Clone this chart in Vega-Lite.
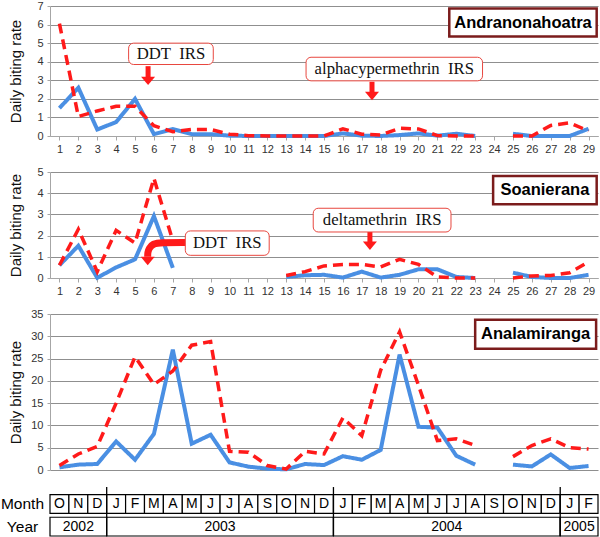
{
  "$schema": "https://vega.github.io/schema/vega-lite/v6.json",
  "background": "white",
  "padding": {"left": 0, "top": 0, "right": 2, "bottom": 0},
  "spacing": 36,
  "bounds": "flush",
  "config": {
    "view": {"stroke": null},
    "font": "Liberation Sans",
    "axis": {"labelFont": "Liberation Sans", "titleFont": "Liberation Sans", "labelColor": "#333", "domainColor": "#a6a6a6", "tickColor": "#a6a6a6", "gridColor": "#8f8f8f", "gridWidth": 1, "titleFontWeight": "normal", "titleColor": "#111", "titleFontSize": 15, "labelFontSize": 11, "labelOverlap": false}
  },
  "datasets": {
    "rates": [
      {"site": "Andranonahoatra", "month": 1, "Series 1": 1.5, "Series 2": 6.05},
      {"site": "Andranonahoatra", "month": 2, "Series 1": 2.6, "Series 2": 1.05},
      {"site": "Andranonahoatra", "month": 3, "Series 1": 0.35, "Series 2": 1.35},
      {"site": "Andranonahoatra", "month": 4, "Series 1": 0.75, "Series 2": 1.6},
      {"site": "Andranonahoatra", "month": 5, "Series 1": 2.0, "Series 2": 1.6},
      {"site": "Andranonahoatra", "month": 6, "Series 1": 0.1, "Series 2": 0.55},
      {"site": "Andranonahoatra", "month": 7, "Series 1": 0.37, "Series 2": 0.23},
      {"site": "Andranonahoatra", "month": 8, "Series 1": 0.1, "Series 2": 0.35},
      {"site": "Andranonahoatra", "month": 9, "Series 1": 0.1, "Series 2": 0.35},
      {"site": "Andranonahoatra", "month": 10, "Series 1": 0.02, "Series 2": 0.1},
      {"site": "Andranonahoatra", "month": 11, "Series 1": 0, "Series 2": 0.02},
      {"site": "Andranonahoatra", "month": 12, "Series 1": 0, "Series 2": 0},
      {"site": "Andranonahoatra", "month": 13, "Series 1": 0, "Series 2": 0},
      {"site": "Andranonahoatra", "month": 14, "Series 1": 0, "Series 2": 0},
      {"site": "Andranonahoatra", "month": 15, "Series 1": 0, "Series 2": 0},
      {"site": "Andranonahoatra", "month": 16, "Series 1": 0.14, "Series 2": 0.39},
      {"site": "Andranonahoatra", "month": 17, "Series 1": 0.02, "Series 2": 0.1},
      {"site": "Andranonahoatra", "month": 18, "Series 1": 0, "Series 2": 0.05},
      {"site": "Andranonahoatra", "month": 19, "Series 1": 0.05, "Series 2": 0.42},
      {"site": "Andranonahoatra", "month": 20, "Series 1": 0.14, "Series 2": 0.38},
      {"site": "Andranonahoatra", "month": 21, "Series 1": 0.02, "Series 2": 0.02},
      {"site": "Andranonahoatra", "month": 22, "Series 1": 0.12, "Series 2": 0},
      {"site": "Andranonahoatra", "month": 23, "Series 1": 0, "Series 2": 0},
      {"site": "Andranonahoatra", "month": 24, "Series 1": null, "Series 2": null},
      {"site": "Andranonahoatra", "month": 25, "Series 1": 0.12, "Series 2": 0},
      {"site": "Andranonahoatra", "month": 26, "Series 1": 0, "Series 2": 0},
      {"site": "Andranonahoatra", "month": 27, "Series 1": 0, "Series 2": 0.57},
      {"site": "Andranonahoatra", "month": 28, "Series 1": 0, "Series 2": 0.71},
      {"site": "Andranonahoatra", "month": 29, "Series 1": 0.39, "Series 2": 0.27},
      {"site": "Soanierana", "month": 1, "Series 1": 0.6, "Series 2": 0.6},
      {"site": "Soanierana", "month": 2, "Series 1": 1.52, "Series 2": 2.3},
      {"site": "Soanierana", "month": 3, "Series 1": 0.01, "Series 2": 0.3},
      {"site": "Soanierana", "month": 4, "Series 1": 0.5, "Series 2": 2.25},
      {"site": "Soanierana", "month": 5, "Series 1": 0.88, "Series 2": 1.65},
      {"site": "Soanierana", "month": 6, "Series 1": 2.92, "Series 2": 4.7},
      {"site": "Soanierana", "month": 7, "Series 1": 0.48, "Series 2": 1.75},
      {"site": "Soanierana", "month": 8, "Series 1": null, "Series 2": null},
      {"site": "Soanierana", "month": 9, "Series 1": null, "Series 2": null},
      {"site": "Soanierana", "month": 10, "Series 1": null, "Series 2": null},
      {"site": "Soanierana", "month": 11, "Series 1": null, "Series 2": null},
      {"site": "Soanierana", "month": 12, "Series 1": null, "Series 2": null},
      {"site": "Soanierana", "month": 13, "Series 1": 0.05, "Series 2": 0.12},
      {"site": "Soanierana", "month": 14, "Series 1": 0.13, "Series 2": 0.3},
      {"site": "Soanierana", "month": 15, "Series 1": 0.15, "Series 2": 0.57},
      {"site": "Soanierana", "month": 16, "Series 1": 0.02, "Series 2": 0.64},
      {"site": "Soanierana", "month": 17, "Series 1": 0.3, "Series 2": 0.64},
      {"site": "Soanierana", "month": 18, "Series 1": 0.02, "Series 2": 0.52},
      {"site": "Soanierana", "month": 19, "Series 1": 0.15, "Series 2": 0.88},
      {"site": "Soanierana", "month": 20, "Series 1": 0.41, "Series 2": 0.64},
      {"site": "Soanierana", "month": 21, "Series 1": 0.41, "Series 2": 0.05},
      {"site": "Soanierana", "month": 22, "Series 1": 0.05, "Series 2": 0},
      {"site": "Soanierana", "month": 23, "Series 1": 0, "Series 2": 0},
      {"site": "Soanierana", "month": 24, "Series 1": null, "Series 2": null},
      {"site": "Soanierana", "month": 25, "Series 1": 0.25, "Series 2": 0},
      {"site": "Soanierana", "month": 26, "Series 1": 0.05, "Series 2": 0.1},
      {"site": "Soanierana", "month": 27, "Series 1": 0, "Series 2": 0.12},
      {"site": "Soanierana", "month": 28, "Series 1": 0, "Series 2": 0.25},
      {"site": "Soanierana", "month": 29, "Series 1": 0.15, "Series 2": 0.76},
      {"site": "Analamiranga", "month": 1, "Series 1": 0.6, "Series 2": 1.0},
      {"site": "Analamiranga", "month": 2, "Series 1": 1.2, "Series 2": 3.6},
      {"site": "Analamiranga", "month": 3, "Series 1": 1.35, "Series 2": 5.3},
      {"site": "Analamiranga", "month": 4, "Series 1": 6.4, "Series 2": 15.0},
      {"site": "Analamiranga", "month": 5, "Series 1": 2.3, "Series 2": 25.4},
      {"site": "Analamiranga", "month": 6, "Series 1": 8.1, "Series 2": 19.2},
      {"site": "Analamiranga", "month": 7, "Series 1": 27.0, "Series 2": 22.2},
      {"site": "Analamiranga", "month": 8, "Series 1": 5.9, "Series 2": 28.0},
      {"site": "Analamiranga", "month": 9, "Series 1": 7.9, "Series 2": 28.8},
      {"site": "Analamiranga", "month": 10, "Series 1": 1.7, "Series 2": 4.2},
      {"site": "Analamiranga", "month": 11, "Series 1": 0.75, "Series 2": 4.0},
      {"site": "Analamiranga", "month": 12, "Series 1": 0.3, "Series 2": 1.0},
      {"site": "Analamiranga", "month": 13, "Series 1": 0.15, "Series 2": 0.2},
      {"site": "Analamiranga", "month": 14, "Series 1": 1.35, "Series 2": 4.2},
      {"site": "Analamiranga", "month": 15, "Series 1": 1.1, "Series 2": 3.6},
      {"site": "Analamiranga", "month": 16, "Series 1": 3.1, "Series 2": 11.7},
      {"site": "Analamiranga", "month": 17, "Series 1": 2.3, "Series 2": 7.7},
      {"site": "Analamiranga", "month": 18, "Series 1": 4.5, "Series 2": 22.4},
      {"site": "Analamiranga", "month": 19, "Series 1": 25.9, "Series 2": 31.0},
      {"site": "Analamiranga", "month": 20, "Series 1": 9.7, "Series 2": 19.0},
      {"site": "Analamiranga", "month": 21, "Series 1": 9.5, "Series 2": 6.6},
      {"site": "Analamiranga", "month": 22, "Series 1": 3.2, "Series 2": 7.0},
      {"site": "Analamiranga", "month": 23, "Series 1": 1.2, "Series 2": 5.5},
      {"site": "Analamiranga", "month": 24, "Series 1": null, "Series 2": null},
      {"site": "Analamiranga", "month": 25, "Series 1": 1.2, "Series 2": 3.0},
      {"site": "Analamiranga", "month": 26, "Series 1": 0.8, "Series 2": 5.5},
      {"site": "Analamiranga", "month": 27, "Series 1": 3.5, "Series 2": 7.0},
      {"site": "Analamiranga", "month": 28, "Series 1": 0.45, "Series 2": 5.0},
      {"site": "Analamiranga", "month": 29, "Series 1": 0.9, "Series 2": 4.7}
    ],
    "notes": [
      {"site": "Andranonahoatra", "kind": "irs", "label": "DDT\u00a0\u00a0IRS", "x1": 4.66, "x2": 9.14, "y1": 3.85, "y2": 5.0, "xm": 6.9, "ym": 4.43},
      {"site": "Andranonahoatra", "kind": "irs", "label": "alphacypermethrin\u00a0\u00a0IRS", "x1": 14.05, "x2": 23.39, "y1": 2.97, "y2": 4.24, "xm": 18.72, "ym": 3.6},
      {"site": "Andranonahoatra", "kind": "site", "label": "Andranonahoatra", "x1": 21.63, "x2": 29.43, "y1": 5.36, "y2": 6.86, "xm": 25.53, "ym": 6.11},
      {"site": "Soanierana", "kind": "site", "label": "Soanierana", "x1": 23.95, "x2": 29.43, "y1": 3.48, "y2": 4.81, "xm": 26.69, "ym": 4.15},
      {"site": "Soanierana", "kind": "irs", "label": "deltamethrin\u00a0\u00a0IRS", "x1": 14.43, "x2": 21.72, "y1": 2.17, "y2": 3.29, "xm": 18.08, "ym": 2.73},
      {"site": "Soanierana", "kind": "irs", "label": "DDT\u00a0\u00a0IRS", "x1": 7.66, "x2": 12.1, "y1": 1.07, "y2": 2.22, "xm": 9.88, "ym": 1.65},
      {"site": "Analamiranga", "kind": "site", "label": "Analamiranga", "x1": 23.0, "x2": 29.4, "y1": 27.2, "y2": 33.7, "xm": 26.2, "ym": 30.45}
    ],
    "shafts": [
      {"site": "Andranonahoatra", "x": 5.69, "ytop": 3.76, "yend": 3.05},
      {"site": "Andranonahoatra", "x": 17.54, "ytop": 2.92, "yend": 2.25},
      {"site": "Soanierana", "x": 17.43, "ytop": 2.17, "yend": 1.62}
    ],
    "heads": [
      {"site": "Andranonahoatra", "x": 5.69, "y": 2.97},
      {"site": "Andranonahoatra", "x": 17.54, "y": 2.15},
      {"site": "Soanierana", "x": 17.43, "y": 1.52},
      {"site": "Soanierana", "x": 5.67, "y": 0.8}
    ],
    "curve": [
      {"order": 1, "x": 7.7, "y": 1.67},
      {"order": 2, "x": 6.35, "y": 1.67},
      {"order": 3, "x": 5.95, "y": 1.62},
      {"order": 4, "x": 5.74, "y": 1.4},
      {"order": 5, "x": 5.67, "y": 1.2},
      {"order": 6, "x": 5.67, "y": 1.0}
    ],
    "months": [
      {"row": "Month", "pos": 1, "from": 0.5, "to": 1.5, "label": "O"},
      {"row": "Month", "pos": 2, "from": 1.5, "to": 2.5, "label": "N"},
      {"row": "Month", "pos": 3, "from": 2.5, "to": 3.5, "label": "D"},
      {"row": "Month", "pos": 4, "from": 3.5, "to": 4.5, "label": "J"},
      {"row": "Month", "pos": 5, "from": 4.5, "to": 5.5, "label": "F"},
      {"row": "Month", "pos": 6, "from": 5.5, "to": 6.5, "label": "M"},
      {"row": "Month", "pos": 7, "from": 6.5, "to": 7.5, "label": "A"},
      {"row": "Month", "pos": 8, "from": 7.5, "to": 8.5, "label": "M"},
      {"row": "Month", "pos": 9, "from": 8.5, "to": 9.5, "label": "J"},
      {"row": "Month", "pos": 10, "from": 9.5, "to": 10.5, "label": "J"},
      {"row": "Month", "pos": 11, "from": 10.5, "to": 11.5, "label": "A"},
      {"row": "Month", "pos": 12, "from": 11.5, "to": 12.5, "label": "S"},
      {"row": "Month", "pos": 13, "from": 12.5, "to": 13.5, "label": "O"},
      {"row": "Month", "pos": 14, "from": 13.5, "to": 14.5, "label": "N"},
      {"row": "Month", "pos": 15, "from": 14.5, "to": 15.5, "label": "D"},
      {"row": "Month", "pos": 16, "from": 15.5, "to": 16.5, "label": "J"},
      {"row": "Month", "pos": 17, "from": 16.5, "to": 17.5, "label": "F"},
      {"row": "Month", "pos": 18, "from": 17.5, "to": 18.5, "label": "M"},
      {"row": "Month", "pos": 19, "from": 18.5, "to": 19.5, "label": "A"},
      {"row": "Month", "pos": 20, "from": 19.5, "to": 20.5, "label": "M"},
      {"row": "Month", "pos": 21, "from": 20.5, "to": 21.5, "label": "J"},
      {"row": "Month", "pos": 22, "from": 21.5, "to": 22.5, "label": "J"},
      {"row": "Month", "pos": 23, "from": 22.5, "to": 23.5, "label": "A"},
      {"row": "Month", "pos": 24, "from": 23.5, "to": 24.5, "label": "S"},
      {"row": "Month", "pos": 25, "from": 24.5, "to": 25.5, "label": "O"},
      {"row": "Month", "pos": 26, "from": 25.5, "to": 26.5, "label": "N"},
      {"row": "Month", "pos": 27, "from": 26.5, "to": 27.5, "label": "D"},
      {"row": "Month", "pos": 28, "from": 27.5, "to": 28.5, "label": "J"},
      {"row": "Month", "pos": 29, "from": 28.5, "to": 29.5, "label": "F"}
    ],
    "years": [
      {"row": "Year", "label": "2002", "from": 0.5, "to": 3.5, "mid": 2},
      {"row": "Year", "label": "2003", "from": 3.5, "to": 15.5, "mid": 9.5},
      {"row": "Year", "label": "2004", "from": 15.5, "to": 27.5, "mid": 21.5},
      {"row": "Year", "label": "2005", "from": 27.5, "to": 29.5, "mid": 28.5}
    ]
  },
  "vconcat": [
    {
      "width": 548,
      "height": 130,
      "layer": [
        {
          "data": {"name": "rates"},
          "transform": [{"filter": "datum.site === 'Andranonahoatra'"}, {"fold": ["Series 1", "Series 2"], "as": ["series", "rate"]}],
          "mark": {"type": "line", "invalid": "break-paths-show-domains", "strokeCap": "butt"},
          "encoding": {
            "x": {"field": "month", "type": "quantitative", "scale": {"domain": [0.5, 29.5], "nice": false, "zero": false},
              "axis": {"values": [1,2,3,4,5,6,7,8,9,10,11,12,13,14,15,16,17,18,19,20,21,22,23,24,25,26,27,28,29], "grid": false, "title": null, "tickSize": 4, "labelPadding": 3, "labelAngle": 0, "labelFlush": false, "labelOverlap": false}},
            "y": {"field": "rate", "type": "quantitative", "scale": {"domain": [0, 7], "nice": false},
              "axis": {"values": [0,1,2,3,4,5,6,7], "title": "Daily biting rate", "grid": true, "tickSize": 3, "labelPadding": 4, "titlePadding": 7, "minExtent": 20, "maxExtent": 20, "labelOverlap": false}},
            "color": {"field": "series", "type": "nominal", "scale": {"domain": ["Series 1", "Series 2"], "range": ["#4a8fe3", "#ff1a1a"]}, "legend": null},
            "strokeDash": {"field": "series", "type": "nominal", "scale": {"domain": ["Series 1", "Series 2"], "range": [[1, 0], [10, 6]]}, "legend": null},
            "size": {"field": "series", "type": "ordinal", "scale": {"domain": ["Series 1", "Series 2"], "range": [4, 3.5]}, "legend": null}
          }
        },
        {
          "data": {"name": "shafts"},
          "transform": [{"filter": "datum.site === 'Andranonahoatra'"}],
          "mark": {"type": "rule", "color": "#ff1a1a", "strokeWidth": 5},
          "encoding": {
            "x": {"field": "x", "type": "quantitative", "axis": {"values": [1,2,3,4,5,6,7,8,9,10,11,12,13,14,15,16,17,18,19,20,21,22,23,24,25,26,27,28,29], "grid": false, "title": null, "tickSize": 4, "labelPadding": 3, "labelAngle": 0, "labelFlush": false, "labelOverlap": false}},
            "y": {"field": "ytop", "type": "quantitative", "axis": {"values": [0,1,2,3,4,5,6,7], "title": "Daily biting rate", "grid": true, "tickSize": 3, "labelPadding": 4, "titlePadding": 7, "minExtent": 20, "maxExtent": 20, "labelOverlap": false}},
            "y2": {"field": "yend"}}
        },
        {
          "data": {"name": "heads"},
          "transform": [{"filter": "datum.site === 'Andranonahoatra'"}],
          "mark": {"type": "point", "shape": "M-1,-0.6L1,-0.6L0,0.6Z", "size": 196, "filled": true, "color": "#ff1a1a", "opacity": 1, "strokeWidth": 0},
          "encoding": {
            "x": {"field": "x", "type": "quantitative", "axis": {"values": [1,2,3,4,5,6,7,8,9,10,11,12,13,14,15,16,17,18,19,20,21,22,23,24,25,26,27,28,29], "grid": false, "title": null, "tickSize": 4, "labelPadding": 3, "labelAngle": 0, "labelFlush": false, "labelOverlap": false}},
            "y": {"field": "y", "type": "quantitative", "axis": {"values": [0,1,2,3,4,5,6,7], "title": "Daily biting rate", "grid": true, "tickSize": 3, "labelPadding": 4, "titlePadding": 7, "minExtent": 20, "maxExtent": 20, "labelOverlap": false}}}
        },
        {
          "data": {"name": "notes"},
          "transform": [{"filter": "datum.site === 'Andranonahoatra' && datum.kind === 'irs'"}],
          "mark": {"type": "rect", "fill": "white", "stroke": "#e8473f", "strokeWidth": 1, "cornerRadius": 5},
          "encoding": {
            "x": {"field": "x1", "type": "quantitative", "axis": {"values": [1,2,3,4,5,6,7,8,9,10,11,12,13,14,15,16,17,18,19,20,21,22,23,24,25,26,27,28,29], "grid": false, "title": null, "tickSize": 4, "labelPadding": 3, "labelAngle": 0, "labelFlush": false, "labelOverlap": false}},
            "x2": {"field": "x2"},
            "y": {"field": "y1", "type": "quantitative", "axis": {"values": [0,1,2,3,4,5,6,7], "title": "Daily biting rate", "grid": true, "tickSize": 3, "labelPadding": 4, "titlePadding": 7, "minExtent": 20, "maxExtent": 20, "labelOverlap": false}},
            "y2": {"field": "y2"}}
        },
        {
          "data": {"name": "notes"},
          "transform": [{"filter": "datum.site === 'Andranonahoatra' && datum.kind === 'site'"}],
          "mark": {"type": "rect", "fill": "white", "stroke": "#7b1c1c", "strokeWidth": 2.5},
          "encoding": {
            "x": {"field": "x1", "type": "quantitative", "axis": {"values": [1,2,3,4,5,6,7,8,9,10,11,12,13,14,15,16,17,18,19,20,21,22,23,24,25,26,27,28,29], "grid": false, "title": null, "tickSize": 4, "labelPadding": 3, "labelAngle": 0, "labelFlush": false, "labelOverlap": false}},
            "x2": {"field": "x2"},
            "y": {"field": "y1", "type": "quantitative", "axis": {"values": [0,1,2,3,4,5,6,7], "title": "Daily biting rate", "grid": true, "tickSize": 3, "labelPadding": 4, "titlePadding": 7, "minExtent": 20, "maxExtent": 20, "labelOverlap": false}},
            "y2": {"field": "y2"}}
        },
        {
          "data": {"name": "notes"},
          "transform": [{"filter": "datum.site === 'Andranonahoatra' && datum.kind === 'irs'"}],
          "mark": {"type": "text", "font": "Liberation Serif", "fontSize": 16.7, "color": "#111", "align": "center", "baseline": "middle"},
          "encoding": {
            "x": {"field": "xm", "type": "quantitative", "axis": {"values": [1,2,3,4,5,6,7,8,9,10,11,12,13,14,15,16,17,18,19,20,21,22,23,24,25,26,27,28,29], "grid": false, "title": null, "tickSize": 4, "labelPadding": 3, "labelAngle": 0, "labelFlush": false, "labelOverlap": false}},
            "y": {"field": "ym", "type": "quantitative", "axis": {"values": [0,1,2,3,4,5,6,7], "title": "Daily biting rate", "grid": true, "tickSize": 3, "labelPadding": 4, "titlePadding": 7, "minExtent": 20, "maxExtent": 20, "labelOverlap": false}},
            "text": {"field": "label"}}
        },
        {
          "data": {"name": "notes"},
          "transform": [{"filter": "datum.site === 'Andranonahoatra' && datum.kind === 'site'"}],
          "mark": {"type": "text", "font": "Liberation Sans", "fontWeight": "bold", "fontSize": 16.5, "color": "#000", "align": "center", "baseline": "middle"},
          "encoding": {
            "x": {"field": "xm", "type": "quantitative", "axis": {"values": [1,2,3,4,5,6,7,8,9,10,11,12,13,14,15,16,17,18,19,20,21,22,23,24,25,26,27,28,29], "grid": false, "title": null, "tickSize": 4, "labelPadding": 3, "labelAngle": 0, "labelFlush": false, "labelOverlap": false}},
            "y": {"field": "ym", "type": "quantitative", "axis": {"values": [0,1,2,3,4,5,6,7], "title": "Daily biting rate", "grid": true, "tickSize": 3, "labelPadding": 4, "titlePadding": 7, "minExtent": 20, "maxExtent": 20, "labelOverlap": false}},
            "text": {"field": "label"}}
        }
      ]
    },
    {
      "width": 548,
      "height": 106,
      "layer": [
        {
          "data": {"name": "rates"},
          "transform": [{"filter": "datum.site === 'Soanierana'"}, {"fold": ["Series 1", "Series 2"], "as": ["series", "rate"]}],
          "mark": {"type": "line", "invalid": "break-paths-show-domains", "strokeCap": "butt"},
          "encoding": {
            "x": {"field": "month", "type": "quantitative", "scale": {"domain": [0.5, 29.5], "nice": false, "zero": false},
              "axis": {"values": [1,2,3,4,5,6,7,8,9,10,11,12,13,14,15,16,17,18,19,20,21,22,23,24,25,26,27,28,29], "grid": false, "title": null, "tickSize": 4, "labelPadding": 3, "labelAngle": 0, "labelFlush": false, "labelOverlap": false}},
            "y": {"field": "rate", "type": "quantitative", "scale": {"domain": [0, 5], "nice": false},
              "axis": {"values": [0,1,2,3,4,5], "title": "Daily biting rate", "grid": true, "tickSize": 3, "labelPadding": 4, "titlePadding": 7, "minExtent": 20, "maxExtent": 20, "labelOverlap": false}},
            "color": {"field": "series", "type": "nominal", "scale": {"domain": ["Series 1", "Series 2"], "range": ["#4a8fe3", "#ff1a1a"]}, "legend": null},
            "strokeDash": {"field": "series", "type": "nominal", "scale": {"domain": ["Series 1", "Series 2"], "range": [[1, 0], [10, 6]]}, "legend": null},
            "size": {"field": "series", "type": "ordinal", "scale": {"domain": ["Series 1", "Series 2"], "range": [4, 3.5]}, "legend": null}
          }
        },
        {
          "data": {"name": "curve"},
          "mark": {"type": "line", "color": "#ff1a1a", "strokeWidth": 7, "interpolate": "basis", "strokeCap": "butt"},
          "encoding": {
            "x": {"field": "x", "type": "quantitative", "axis": {"values": [1,2,3,4,5,6,7,8,9,10,11,12,13,14,15,16,17,18,19,20,21,22,23,24,25,26,27,28,29], "grid": false, "title": null, "tickSize": 4, "labelPadding": 3, "labelAngle": 0, "labelFlush": false, "labelOverlap": false}},
            "y": {"field": "y", "type": "quantitative", "axis": {"values": [0,1,2,3,4,5], "title": "Daily biting rate", "grid": true, "tickSize": 3, "labelPadding": 4, "titlePadding": 7, "minExtent": 20, "maxExtent": 20, "labelOverlap": false}},
            "order": {"field": "order"}}
        },
        {
          "data": {"name": "shafts"},
          "transform": [{"filter": "datum.site === 'Soanierana'"}],
          "mark": {"type": "rule", "color": "#ff1a1a", "strokeWidth": 5},
          "encoding": {
            "x": {"field": "x", "type": "quantitative", "axis": {"values": [1,2,3,4,5,6,7,8,9,10,11,12,13,14,15,16,17,18,19,20,21,22,23,24,25,26,27,28,29], "grid": false, "title": null, "tickSize": 4, "labelPadding": 3, "labelAngle": 0, "labelFlush": false, "labelOverlap": false}},
            "y": {"field": "ytop", "type": "quantitative", "axis": {"values": [0,1,2,3,4,5], "title": "Daily biting rate", "grid": true, "tickSize": 3, "labelPadding": 4, "titlePadding": 7, "minExtent": 20, "maxExtent": 20, "labelOverlap": false}},
            "y2": {"field": "yend"}}
        },
        {
          "data": {"name": "heads"},
          "transform": [{"filter": "datum.site === 'Soanierana'"}],
          "mark": {"type": "point", "shape": "M-1,-0.6L1,-0.6L0,0.6Z", "size": 196, "filled": true, "color": "#ff1a1a", "opacity": 1, "strokeWidth": 0},
          "encoding": {
            "x": {"field": "x", "type": "quantitative", "axis": {"values": [1,2,3,4,5,6,7,8,9,10,11,12,13,14,15,16,17,18,19,20,21,22,23,24,25,26,27,28,29], "grid": false, "title": null, "tickSize": 4, "labelPadding": 3, "labelAngle": 0, "labelFlush": false, "labelOverlap": false}},
            "y": {"field": "y", "type": "quantitative", "axis": {"values": [0,1,2,3,4,5], "title": "Daily biting rate", "grid": true, "tickSize": 3, "labelPadding": 4, "titlePadding": 7, "minExtent": 20, "maxExtent": 20, "labelOverlap": false}}}
        },
        {
          "data": {"name": "notes"},
          "transform": [{"filter": "datum.site === 'Soanierana' && datum.kind === 'irs'"}],
          "mark": {"type": "rect", "fill": "white", "stroke": "#e8473f", "strokeWidth": 1, "cornerRadius": 5},
          "encoding": {
            "x": {"field": "x1", "type": "quantitative", "axis": {"values": [1,2,3,4,5,6,7,8,9,10,11,12,13,14,15,16,17,18,19,20,21,22,23,24,25,26,27,28,29], "grid": false, "title": null, "tickSize": 4, "labelPadding": 3, "labelAngle": 0, "labelFlush": false, "labelOverlap": false}},
            "x2": {"field": "x2"},
            "y": {"field": "y1", "type": "quantitative", "axis": {"values": [0,1,2,3,4,5], "title": "Daily biting rate", "grid": true, "tickSize": 3, "labelPadding": 4, "titlePadding": 7, "minExtent": 20, "maxExtent": 20, "labelOverlap": false}},
            "y2": {"field": "y2"}}
        },
        {
          "data": {"name": "notes"},
          "transform": [{"filter": "datum.site === 'Soanierana' && datum.kind === 'site'"}],
          "mark": {"type": "rect", "fill": "white", "stroke": "#7b1c1c", "strokeWidth": 2.5},
          "encoding": {
            "x": {"field": "x1", "type": "quantitative", "axis": {"values": [1,2,3,4,5,6,7,8,9,10,11,12,13,14,15,16,17,18,19,20,21,22,23,24,25,26,27,28,29], "grid": false, "title": null, "tickSize": 4, "labelPadding": 3, "labelAngle": 0, "labelFlush": false, "labelOverlap": false}},
            "x2": {"field": "x2"},
            "y": {"field": "y1", "type": "quantitative", "axis": {"values": [0,1,2,3,4,5], "title": "Daily biting rate", "grid": true, "tickSize": 3, "labelPadding": 4, "titlePadding": 7, "minExtent": 20, "maxExtent": 20, "labelOverlap": false}},
            "y2": {"field": "y2"}}
        },
        {
          "data": {"name": "notes"},
          "transform": [{"filter": "datum.site === 'Soanierana' && datum.kind === 'irs'"}],
          "mark": {"type": "text", "font": "Liberation Serif", "fontSize": 16.7, "color": "#111", "align": "center", "baseline": "middle"},
          "encoding": {
            "x": {"field": "xm", "type": "quantitative", "axis": {"values": [1,2,3,4,5,6,7,8,9,10,11,12,13,14,15,16,17,18,19,20,21,22,23,24,25,26,27,28,29], "grid": false, "title": null, "tickSize": 4, "labelPadding": 3, "labelAngle": 0, "labelFlush": false, "labelOverlap": false}},
            "y": {"field": "ym", "type": "quantitative", "axis": {"values": [0,1,2,3,4,5], "title": "Daily biting rate", "grid": true, "tickSize": 3, "labelPadding": 4, "titlePadding": 7, "minExtent": 20, "maxExtent": 20, "labelOverlap": false}},
            "text": {"field": "label"}}
        },
        {
          "data": {"name": "notes"},
          "transform": [{"filter": "datum.site === 'Soanierana' && datum.kind === 'site'"}],
          "mark": {"type": "text", "font": "Liberation Sans", "fontWeight": "bold", "fontSize": 16.5, "color": "#000", "align": "center", "baseline": "middle"},
          "encoding": {
            "x": {"field": "xm", "type": "quantitative", "axis": {"values": [1,2,3,4,5,6,7,8,9,10,11,12,13,14,15,16,17,18,19,20,21,22,23,24,25,26,27,28,29], "grid": false, "title": null, "tickSize": 4, "labelPadding": 3, "labelAngle": 0, "labelFlush": false, "labelOverlap": false}},
            "y": {"field": "ym", "type": "quantitative", "axis": {"values": [0,1,2,3,4,5], "title": "Daily biting rate", "grid": true, "tickSize": 3, "labelPadding": 4, "titlePadding": 7, "minExtent": 20, "maxExtent": 20, "labelOverlap": false}},
            "text": {"field": "label"}}
        }
      ]
    },
    {
      "width": 548,
      "height": 222,
      "resolve": {"scale": {"y": "independent"}, "axis": {"y": "independent"}},
      "layer": [
        {
          "layer": [
            {
              "data": {"name": "rates"},
              "transform": [{"filter": "datum.site === 'Analamiranga'"}, {"fold": ["Series 1", "Series 2"], "as": ["series", "rate"]}],
              "mark": {"type": "line", "invalid": "break-paths-show-domains", "strokeCap": "butt"},
              "encoding": {
                "x": {"field": "month", "type": "quantitative", "scale": {"domain": [0.5, 29.5], "nice": false, "zero": false},
                  "axis": {"values": [1,2,3,4,5,6,7,8,9,10,11,12,13,14,15,16,17,18,19,20,21,22,23,24,25,26,27,28,29], "grid": false, "title": null, "tickSize": 4, "labelPadding": 3, "labelAngle": 0, "labelFlush": false, "labelOverlap": false, "offset": -66}},
                "y": {"field": "rate", "type": "quantitative", "scale": {"domain": [0, 35], "nice": false, "range": [156, 0]},
                  "axis": {"values": [0,5,10,15,20,25,30,35], "title": "Daily biting rate", "grid": true, "tickSize": 3, "labelPadding": 4, "titlePadding": 7, "minExtent": 20, "maxExtent": 20, "labelOverlap": false}},
                "color": {"field": "series", "type": "nominal", "scale": {"domain": ["Series 1", "Series 2"], "range": ["#4a8fe3", "#ff1a1a"]}, "legend": null},
                "strokeDash": {"field": "series", "type": "nominal", "scale": {"domain": ["Series 1", "Series 2"], "range": [[1, 0], [10, 6]]}, "legend": null},
                "size": {"field": "series", "type": "ordinal", "scale": {"domain": ["Series 1", "Series 2"], "range": [4, 3.5]}, "legend": null}
              }
            },
            {
              "data": {"name": "notes"},
              "transform": [{"filter": "datum.site === 'Analamiranga'"}],
              "mark": {"type": "rect", "fill": "white", "stroke": "#7b1c1c", "strokeWidth": 2.5},
              "encoding": {
                "x": {"field": "x1", "type": "quantitative", "axis": {"values": [1,2,3,4,5,6,7,8,9,10,11,12,13,14,15,16,17,18,19,20,21,22,23,24,25,26,27,28,29], "grid": false, "title": null, "tickSize": 4, "labelPadding": 3, "labelAngle": 0, "labelFlush": false, "labelOverlap": false, "offset": -66}},
                "x2": {"field": "x2"},
                "y": {"field": "y1", "type": "quantitative", "axis": {"values": [0,5,10,15,20,25,30,35], "title": "Daily biting rate", "grid": true, "tickSize": 3, "labelPadding": 4, "titlePadding": 7, "minExtent": 20, "maxExtent": 20, "labelOverlap": false}},
                "y2": {"field": "y2"}
              }
            },
            {
              "data": {"name": "notes"},
              "transform": [{"filter": "datum.site === 'Analamiranga'"}],
              "mark": {"type": "text", "font": "Liberation Sans", "fontWeight": "bold", "fontSize": 16.5, "color": "#000", "align": "center", "baseline": "middle"},
              "encoding": {
                "x": {"field": "xm", "type": "quantitative", "axis": {"values": [1,2,3,4,5,6,7,8,9,10,11,12,13,14,15,16,17,18,19,20,21,22,23,24,25,26,27,28,29], "grid": false, "title": null, "tickSize": 4, "labelPadding": 3, "labelAngle": 0, "labelFlush": false, "labelOverlap": false, "offset": -66}},
                "y": {"field": "ym", "type": "quantitative", "axis": {"values": [0,5,10,15,20,25,30,35], "title": "Daily biting rate", "grid": true, "tickSize": 3, "labelPadding": 4, "titlePadding": 7, "minExtent": 20, "maxExtent": 20, "labelOverlap": false}},
                "text": {"field": "label"}
              }
            }
          ]
        },
        {
          "layer": [
            {
              "data": {"name": "months"},
              "mark": {"type": "rect", "fill": "white", "stroke": "#000", "strokeWidth": 1.2},
              "encoding": {
                "x": {"field": "from", "type": "quantitative", "axis": null},
                "x2": {"field": "to"},
                "y": {"field": "row", "type": "nominal", "scale": {"domain": ["Month", "Year"], "range": [173, 222], "paddingInner": 0.17, "paddingOuter": 0.17, "align": 1},
                  "axis": {"orient": "left", "title": null, "domain": false, "ticks": false, "tickSize": 0, "grid": false, "labelPadding": 28, "labelAlign": "center", "labelBaseline": "middle", "labelFontSize": 15.5, "labelColor": "#000"}}
              }
            },
            {
              "data": {"name": "months"},
              "mark": {"type": "text", "fontSize": 14, "color": "#000", "align": "center", "baseline": "middle"},
              "encoding": {"x": {"field": "pos", "type": "quantitative", "axis": null}, "y": {"field": "row", "type": "nominal"}, "text": {"field": "label"}}
            },
            {
              "data": {"name": "years"},
              "mark": {"type": "rect", "fill": "white", "stroke": "#000", "strokeWidth": 1.2},
              "encoding": {"x": {"field": "from", "type": "quantitative", "axis": null}, "x2": {"field": "to"}, "y": {"field": "row", "type": "nominal"}}
            },
            {
              "data": {"name": "years"},
              "mark": {"type": "text", "fontSize": 14, "color": "#000", "align": "center", "baseline": "middle"},
              "encoding": {"x": {"field": "mid", "type": "quantitative", "axis": null}, "y": {"field": "row", "type": "nominal"}, "text": {"field": "label"}}
            },
            {
              "data": {"name": "years"},
              "transform": [{"filter": "datum.from > 1"}],
              "mark": {"type": "rule", "color": "#000", "strokeWidth": 1.3, "yOffset": -17, "y2Offset": 9.4},
              "encoding": {"x": {"field": "from", "type": "quantitative", "axis": null}, "y": {"datum": "Month", "type": "nominal"}, "y2": {"datum": "Year"}}
            }
          ]
        }
      ]
    }
  ]
}
